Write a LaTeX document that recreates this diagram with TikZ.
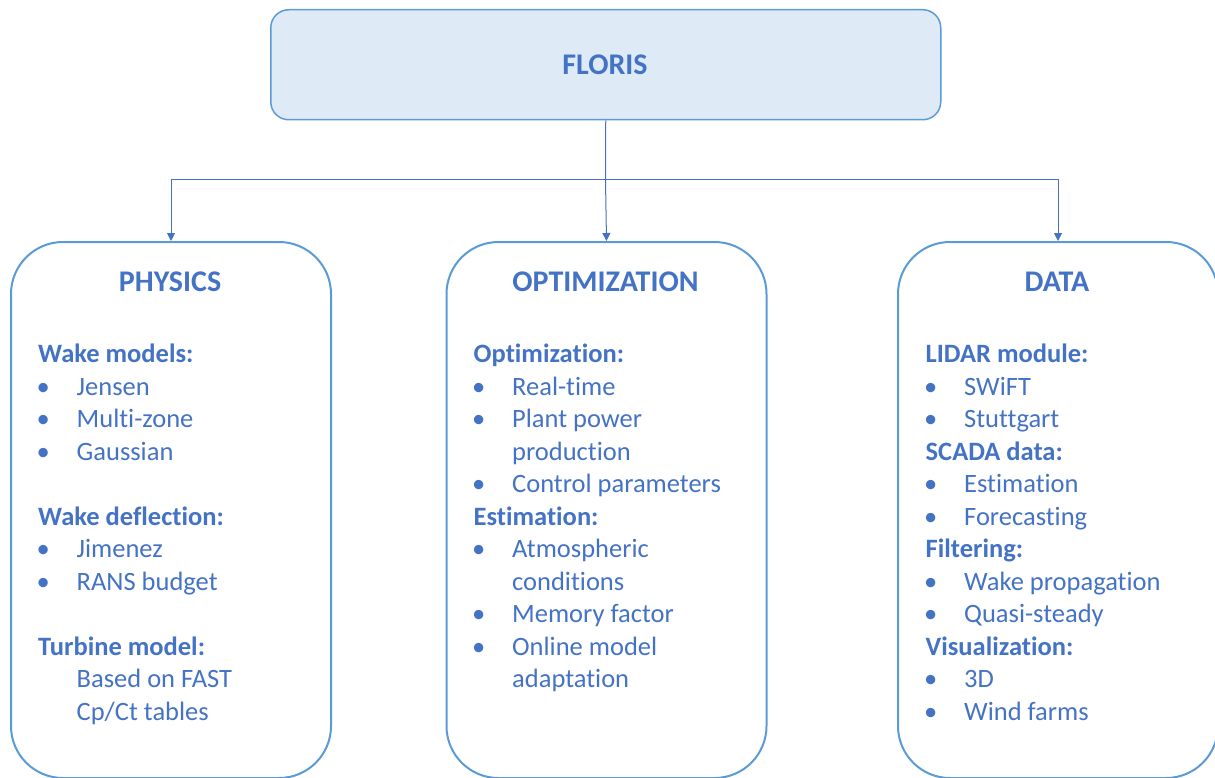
\documentclass[tikz,border=0pt]{standalone}
\usepackage{fontspec}
\setmainfont[Ligatures=NoCommon]{Carlito}
\usetikzlibrary{arrows.meta}
\definecolor{txt}{HTML}{4472C4}
\definecolor{bord}{HTML}{5B9BD5}
\definecolor{fillb}{HTML}{DEEBF7}
\newcommand\hdline[4]{\node[hdst] (#1) at (#2,{362.5+32.5*#3}) {#4};}
\newcommand\bline[4]{\node[itst] (#1) at (#2,{362.5+32.5*#3}) {\makebox[38.5pt][l]{\hspace{-1.5pt}•}#4};}
\newcommand\pline[4]{\node[itst] (#1) at (#2,{362.5+32.5*#3}) {\hspace{38.5pt}#4};}
\begin{document}
\begin{tikzpicture}[x=1pt,y=-1pt,
  topbox/.style={draw=bord, fill=fillb, line width=1.5pt, rounded corners=18pt, anchor=north west, inner sep=0},
  bigbox/.style={draw=bord, line width=2pt, rounded corners=52pt, anchor=north west, inner sep=0, minimum width=320pt, minimum height=536pt},
  title/.style={text=txt, font=\fontsize{30}{36}\selectfont\bfseries, inner sep=0},
  hdst/.style={text=txt, font=\fontsize{26.5}{32}\selectfont\bfseries, anchor=base west, inner sep=0},
  itst/.style={text=txt, font=\fontsize{26.5}{32}\selectfont, anchor=base west, inner sep=0},
  conn/.style={draw=txt, line width=1pt, -{Triangle[length=8pt,width=8pt]}}]
\useasboundingbox (0,0) rectangle (1215,778);
\clip (0,0) rectangle (1215,778);
\node[topbox, minimum width=670pt, minimum height=110pt] (floris) at (270,9) {};
\node[title] (florist) at (605,65) {FLORIS};
\node[bigbox] (phys) at (10,241) {};
\node[bigbox] (opt) at (445.5,241) {};
\node[bigbox] (data) at (897,241) {};
\node[title] (physt) at (170,282) {PHYSICS};
\node[title] (optt) at (605.5,282) {OPTIMIZATION};
\node[title] (datat) at (1057,282) {DATA};
\coordinate (junc) at (605.5,180);
\draw[draw=txt, line width=1pt] (floris.south) -- (junc);
\draw[conn] (junc) -| (phys.north);
\draw[conn] (junc) -- (opt.north);
\draw[conn] (junc) -| (data.north);
% PHYSICS
\hdline{p0}{38}{0}{Wake models:}
\bline{p1}{38}{1}{Jensen}
\bline{p2}{38}{2}{Multi-zone}
\bline{p3}{38}{3}{Gaussian}
\hdline{p5}{38}{5}{Wake deflection:}
\bline{p6}{38}{6}{Jimenez}
\bline{p7}{38}{7}{RANS budget}
\hdline{p9}{38}{9}{Turbine model:}
\pline{p10}{38}{10}{Based on FAST}
\pline{p11}{38}{11}{Cp/Ct tables}
% OPTIMIZATION
\hdline{o0}{473.5}{0}{Optimization:}
\bline{o1}{473.5}{1}{Real-time}
\bline{o2}{473.5}{2}{Plant power}
\pline{o3}{473.5}{3}{production}
\bline{o4}{473.5}{4}{Control parameters}
\hdline{o5}{473.5}{5}{Estimation:}
\bline{o6}{473.5}{6}{Atmospheric}
\pline{o7}{473.5}{7}{conditions}
\bline{o8}{473.5}{8}{Memory factor}
\bline{o9}{473.5}{9}{Online model}
\pline{o10}{473.5}{10}{adaptation}
% DATA
\hdline{d0}{925.5}{0}{LIDAR module:}
\bline{d1}{925.5}{1}{SWiFT}
\bline{d2}{925.5}{2}{Stuttgart}
\hdline{d3}{925.5}{3}{SCADA data:}
\bline{d4}{925.5}{4}{Estimation}
\bline{d5}{925.5}{5}{Forecasting}
\hdline{d6}{925.5}{6}{Filtering:}
\bline{d7}{925.5}{7}{Wake propagation}
\bline{d8}{925.5}{8}{Quasi-steady}
\hdline{d9}{925.5}{9}{Visualization:}
\bline{d10}{925.5}{10}{3D}
\bline{d11}{925.5}{11}{Wind farms}
\end{tikzpicture}
\end{document}
